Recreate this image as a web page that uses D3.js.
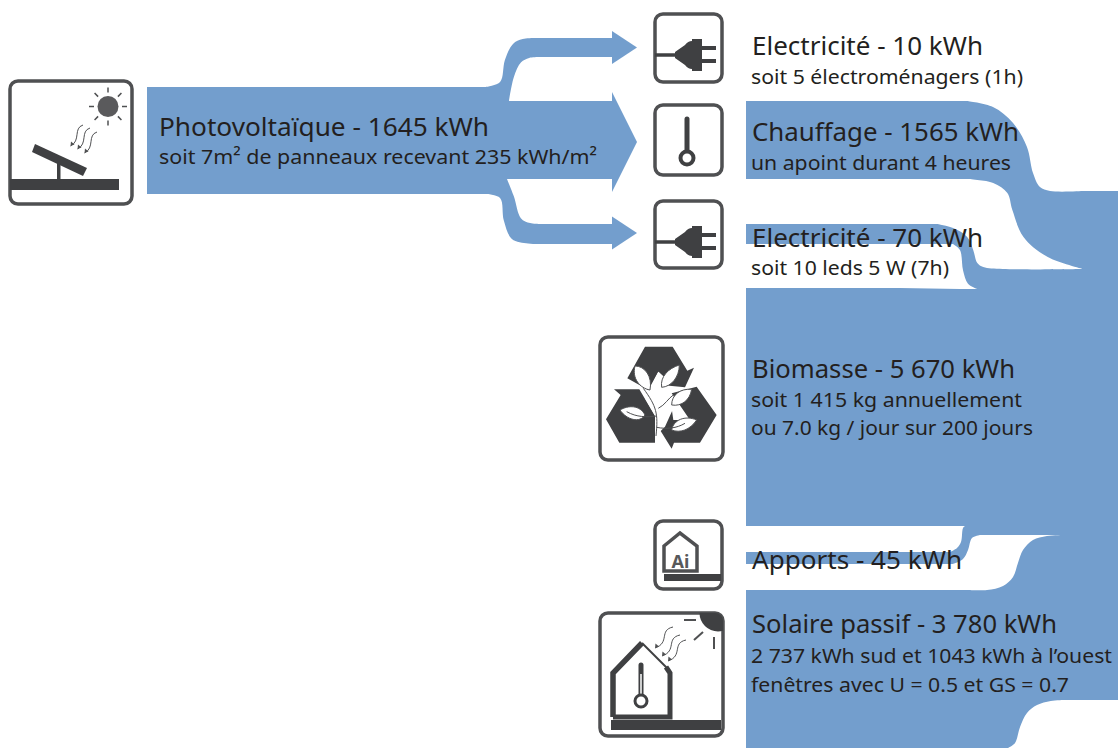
<!DOCTYPE html>
<html lang="fr">
<head>
<meta charset="utf-8">
<title>Bilan énergétique</title>
<script src="https://cdn.jsdelivr.net/npm/d3@7"></script>
<style>
    body { margin: 0; background: #fff; }
    svg { display: block; }
    text { font-family: "Noto Sans", "Open Sans", sans-serif; fill: #231f20; }
</style>
</head>
<body>
<svg id="chart" width="1118" height="748"></svg>
<script>
// values, in kWh
const flowNames = ["Chauffage", "Electricité", "Biomasse", "Apports", "Solaire passif"];
const flowValues = [1565, 70, 5670, 45, 3780];
const pvNames = ["Electricité", "Chauffage", "Electricité"];
const pvValues = [10, 1565, 70];
const pvTotal = 1645;

const titles = [
    "Photovoltaïque - 1645 kWh",
    "Electricité - 10 kWh",
    "Chauffage - 1565 kWh",
    "Electricité - 70 kWh",
    "Biomasse - 5 670 kWh",
    "Apports - 45 kWh",
    "Solaire passif - 3 780 kWh"
];
const subtitles = [
    "soit 7m² de panneaux recevant 235 kWh/m²",
    "soit 5 électroménagers (1h)",
    "un apoint durant 4 heures",
    "soit 10 leds 5 W (7h)",
    "soit 1 415 kg annuellement",
    "ou 7.0 kg / jour sur 200 jours",
    "2 737 kWh sud et 1043 kWh à l’ouest",
    "fenêtres avec U = 0.5 et GS = 0.7"
];

// layout, kept apart from the data
const blue = "#739ecd";
const dark = "#4f5052";
const ink = "#3f4042";
const leftX = 746;
const trunkX = 1083;
const trunkTop = 191;

const rowThick = d3.scaleLinear().domain([45, 70, 1565, 3780, 5670]).range([12, 20, 78, 158, 238]);
const trunkThick = d3.scaleLinear().domain([45, 70, 1565, 3780, 5670]).range([9, 20, 78, 165, 237]);
const pvThick = d3.scaleLinear().domain([10, 70, 1565, 1645]).range([20, 20, 78, 107]);
const headHalf = d3.scaleLinear().domain([20, 78]).range([16.5, 50]);
const rowTop = d3.scaleOrdinal(flowNames, [101, 224, 288, 552, 590]);
const trunkTops = [trunkTop, ...d3.cumsum(flowValues, d => trunkThick(d)).map(d => trunkTop + d)];

const edgeLine = d3.line().curve(d3.curveCatmullRom.alpha(0.5));

// a curved edge from (x0,y0) to (x1,y1), knots are fractions of that box
function edgePoints(x0, y0, x1, y1, knots) {
    const sx = d3.scaleLinear().range([x0, x1]);
    const sy = d3.scaleLinear().range([y0, y1]);
    return [[x0, y0], ...knots.map(k => [sx(k[0]), sy(k[1])]), [x1, y1]];
}

function ribbonPath(x0, x1, top, bottom) {
    const t = edgeLine(top);
    const b = edgeLine(bottom.slice().reverse());
    return "M" + x0 + "," + top[0][1] + "L" + t.slice(1)
        + "L" + x1 + "," + top[top.length - 1][1]
        + "L" + x1 + "," + bottom[bottom.length - 1][1]
        + "L" + b.slice(1)
        + "L" + x0 + "," + bottom[0][1] + "Z";
}

// shape of the curved part of each ribbon (start x, end x, knots)
const ribbonShapes = [
    {
        top: [967, 1083, [[.224, .067], [.397, .244], [.517, .511], [.569, .8], [.629, .956], [.716, 1]]],
        bottom: [967, 1083, [[.226, .044], [.348, .156], [.391, .344], [.487, .644], [.696, .867]]]
    },
    {
        top: [937, 1083, [[.11, .089], [.207, .289], [.248, .578], [.276, .867], [.317, .956], [.45, 1]]],
        bottom: [953, 977, [[.29, .136], [.42, .591], [.625, .886]]]
    },
    { top: [900, 960, []], bottom: [900, 960, []] },
    {
        top: [950, 965, [[.467, .154], [.733, .385], [.867, .923]]],
        bottom: [953, 980, [[.37, .172], [.556, .483], [.704, .897]]]
    },
    {
        top: [968, 1065, [[.196, 0], [.361, .073], [.464, .236], [.515, .491], [.567, .727], [.67, .909], [.814, .982]]],
        bottom: [1008, 1065, [[.123, .104], [.211, .438], [.333, .729], [.509, .896], [.75, .98]]]
    }
];

const svg = d3.select("#chart");
const gFlows = svg.append("g").attr("fill", blue);

// right hand side: everything flows into the trunk
gFlows.append("rect")
    .attr("x", trunkX - 1)
    .attr("y", trunkTops[0])
    .attr("width", 1118 - trunkX + 1)
    .attr("height", trunkTops[trunkTops.length - 1] - trunkTops[0]);

gFlows.selectAll("path.flow")
    .data(flowNames)
    .join("path")
    .attr("class", "flow")
    .attr("d", (name, i) => {
        const shape = ribbonShapes[i];
        const y0 = rowTop(name);
        const y1 = y0 + rowThick(flowValues[i]);
        const top = edgePoints(shape.top[0], y0, shape.top[1], trunkTops[i], shape.top[2]);
        const bottom = edgePoints(shape.bottom[0], y1, shape.bottom[1], trunkTops[i + 1], shape.bottom[2]);
        return ribbonPath(leftX, trunkX, top, bottom);
    });

// left hand side: photovoltaic split in three arrows
const pvX = 147;
const splitX = 486;
const arrowX = 612;
const tipX = 637;
const pvTop = 87;
const pvBottom = pvTop + pvThick(pvTotal);
const midTop = 101;
const midBottom = midTop + pvThick(pvValues[1]);
const upperShaft = 37;
const lowerShaft = 224;

gFlows.append("rect")
    .attr("x", pvX).attr("y", pvTop)
    .attr("width", splitX - pvX + 1).attr("height", pvBottom - pvTop);
gFlows.append("rect")
    .attr("x", pvX).attr("y", midTop)
    .attr("width", arrowX - pvX).attr("height", midBottom - midTop);

const upperTop = edgePoints(splitX, pvTop, 540, upperShaft + 1, [[.26, .1], [.35, .55], [.5, .88], [.68, .98]]);
const upperBot = edgePoints(509, midTop, 540, upperShaft + pvThick(pvValues[0]), [[.16, .55], [.39, .88], [.65, .98]]);
gFlows.append("path").attr("d", ribbonPath(splitX, arrowX, upperTop, upperBot));

const lowerTop = edgePoints(507, midBottom, 540, lowerShaft, [[.21, .39], [.42, .87], [.7, .98]]);
const lowerBot = edgePoints(splitX, pvBottom, 540, lowerShaft + pvThick(pvValues[2]), [[.26, .08], [.33, .53], [.48, .9], [.78, .99]]);
gFlows.append("path").attr("d", ribbonPath(splitX, arrowX, lowerTop, lowerBot));

// arrow heads
const headCenters = [47.5, 142, 233];
gFlows.selectAll("path.head")
    .data(pvValues)
    .join("path")
    .attr("class", "head")
    .attr("d", (v, i) => {
        const half = headHalf(pvThick(v));
        const c = headCenters[i];
        return "M" + arrowX + "," + (c - half) + "L" + tipX + "," + c + "L" + arrowX + "," + (c + half) + "Z";
    });

// labels
const titleX = [159, 752, 752, 752, 752, 752, 752];
const titleY = [136, 55, 141, 247, 378, 569, 633];
const titleW = [330, 231, 267, 231, 263, 210, 305];
const subX = [159, 751, 751, 751, 751, 751, 751, 751];
const subY = [164, 84, 170, 275, 407, 435, 663, 692];
const subW = [438, 272, 260, 198, 271, 282, 361, 318];

const gText = svg.append("g");
gText.selectAll("text.title")
    .data(titles)
    .join("text")
    .attr("class", "title")
    .attr("x", (d, i) => titleX[i])
    .attr("y", (d, i) => titleY[i])
    .attr("font-size", 26)
    .attr("textLength", (d, i) => titleW[i])
    .attr("lengthAdjust", "spacingAndGlyphs")
    .text(d => d);
gText.selectAll("text.sub")
    .data(subtitles)
    .join("text")
    .attr("class", "sub")
    .attr("x", (d, i) => subX[i])
    .attr("y", (d, i) => subY[i])
    .attr("font-size", 20.5)
    .attr("textLength", (d, i) => subW[i])
    .attr("lengthAdjust", "spacingAndGlyphs")
    .text(d => d);

// icons, each one drawn in the coordinates of its own little box
function iconBox(x, y, w, h) {
    const g = svg.append("g").attr("transform", "translate(" + x + "," + y + ")");
    g.append("rect")
        .attr("width", w).attr("height", h).attr("rx", 8)
        .attr("fill", "#fff").attr("stroke", dark).attr("stroke-width", 3.5);
    return g;
}

function plug(g) {
    g.append("line").attr("x1", 0).attr("x2", 22).attr("y1", 41).attr("y2", 41)
        .attr("stroke", ink).attr("stroke-width", 3.5);
    g.append("path").attr("fill", ink)
        .attr("d", "M20,38L30,31Q33,27 37,27V25H47V32H61V36H47V45H61V49H47V57H37V55Q33,55 30,51L20,44Z");
}

// three small wavy rays: each one goes from its start by (-dx, dy)
function wavyArrows(g, starts, dx, dy) {
    starts.forEach(s => {
        const ex = s[0] - dx;
        const ey = s[1] + dy;
        g.append("path").attr("fill", "none").attr("stroke", dark).attr("stroke-width", 1)
            .attr("d", "M" + s[0] + "," + s[1]
                + "C" + (s[0] - dx * 0.8) + "," + (s[1] + dy * 0.15)
                + " " + (s[0] - dx * 0.15) + "," + (s[1] + dy * 0.75)
                + " " + ex + "," + ey);
        g.append("path").attr("fill", dark)
            .attr("d", "M" + ex + "," + ey + "l0.5,-4.5l3.5,3z");
    });
}

const plugTop = iconBox(655, 14, 67, 68);
plug(plugTop);

const thermo = iconBox(655, 105, 67, 70);
thermo.append("line").attr("x1", 32).attr("x2", 32).attr("y1", 14).attr("y2", 45)
    .attr("stroke", ink).attr("stroke-width", 5).attr("stroke-linecap", "round");
thermo.append("circle").attr("cx", 32).attr("cy", 53).attr("r", 6.5)
    .attr("fill", "#fff").attr("stroke", ink).attr("stroke-width", 4);

const plugLow = iconBox(655, 201, 67, 67);
plug(plugLow);

// photovoltaic panel
const pvIcon = iconBox(10, 81, 122, 123);
pvIcon.append("rect").attr("x", 0).attr("y", 98).attr("width", 109).attr("height", 11).attr("fill", ink);
pvIcon.append("rect").attr("x", 47).attr("y", 82).attr("width", 3.5).attr("height", 17).attr("fill", ink);
pvIcon.append("path").attr("fill", ink).attr("d", "M25,63L77,87L73,95L22,71Z");
pvIcon.append("circle").attr("cx", 98).attr("cy", 25.5).attr("r", 10.5).attr("fill", "#5a5a5c");
d3.range(8).forEach(i => {
    const a = i * Math.PI / 4;
    pvIcon.append("line")
        .attr("x1", 98 + 14 * Math.cos(a)).attr("y1", 25.5 + 14 * Math.sin(a))
        .attr("x2", 98 + 19 * Math.cos(a)).attr("y2", 25.5 + 19 * Math.sin(a))
        .attr("stroke", dark).attr("stroke-width", 1.5);
});
wavyArrows(pvIcon, [[73, 44], [80, 47], [87, 51]], 12.5, 21);

// recycling arrows with the little plant, numbers are 3x zoom units
const recycle = iconBox(600, 337, 123, 123);
const rec = recycle.append("g").attr("transform", "translate(-10,-7) scale(0.3333)");
const recyclePolys = [
    "M165,50L248,50L292,122L312,113L285,172L215,165L232,150L205,125L175,180L112,145Z",
    "M72,178L148,178L195,258L195,338L88,338L48,268L92,195Z",
    "M320,170L380,255L330,338L252,338L245,356L205,292L245,235L250,270L300,270L245,190Z"
];
rec.selectAll("path.arrow").data(recyclePolys).join("path")
    .attr("class", "arrow").attr("fill", ink).attr("d", d => d);
rec.append("path").attr("fill", "#fff")
    .attr("d", "M205,125L232,150L215,165L240,190L250,235L225,290L200,315L198,262L165,205Z");
const leaves = [
    "M135,108C165,108 188,140 180,180C150,175 125,145 135,108Z",
    "M268,105C268,140 245,170 215,172C210,140 235,115 268,105Z",
    "M305,178C300,210 275,230 245,225C245,195 270,175 305,178Z",
    "M90,240C115,225 150,225 165,255C150,280 110,270 90,240Z",
    "M320,270C300,300 270,310 245,300C250,270 285,255 320,270Z"
];
rec.selectAll("path.leaf").data(leaves).join("path")
    .attr("class", "leaf").attr("fill", "#fff").attr("stroke", dark).attr("stroke-width", 3)
    .attr("d", d => d);
rec.append("path").attr("fill", "none").attr("stroke", dark).attr("stroke-width", 3)
    .attr("d", "M198,318C205,250 200,230 160,175M205,235C225,225 235,205 250,195M200,258C170,262 140,262 110,245M200,292C230,298 260,295 285,280");

// internal gains
const ai = iconBox(655, 521, 67, 68);
ai.append("path").attr("fill", "none").attr("stroke", dark).attr("stroke-width", 3.5)
    .attr("d", "M9,50V25L25,12L42,25V50Z");
ai.append("rect").attr("x", 9).attr("y", 53).attr("width", 57).attr("height", 7).attr("fill", ink);
ai.append("text").attr("x", 25.5).attr("y", 47).attr("text-anchor", "middle")
    .attr("font-size", 18).attr("font-weight", 700).style("fill", "#58595b").text("Ai");

// passive solar
const house = iconBox(600, 613, 123, 123);
house.append("clipPath").attr("id", "corner").append("rect")
    .attr("width", 123).attr("height", 123).attr("rx", 8);
house.append("circle").attr("cx", 118).attr("cy", 0).attr("r", 18.5)
    .attr("fill", ink).attr("clip-path", "url(#corner)");
house.selectAll("path.ray")
    .data(["M84,7H96", "M94,27L103,19", "M114,24V36"])
    .join("path").attr("class", "ray").attr("stroke", dark).attr("stroke-width", 2).attr("d", d => d);
house.append("path").attr("fill", "none").attr("stroke", ink).attr("stroke-width", 5.5)
    .attr("d", "M13,104V60L42,30");
house.append("path").attr("fill", "none").attr("stroke", ink).attr("stroke-width", 2)
    .attr("d", "M42,30L70,58");
house.append("path").attr("fill", "none").attr("stroke", ink).attr("stroke-width", 5)
    .attr("d", "M66,54L70,60V104H13");
house.append("rect").attr("x", 11).attr("y", 107).attr("width", 110).attr("height", 10).attr("fill", ink);
house.append("line").attr("x1", 41).attr("x2", 41).attr("y1", 52).attr("y2", 85)
    .attr("stroke", ink).attr("stroke-width", 5).attr("stroke-linecap", "round");
house.append("line").attr("x1", 41).attr("x2", 41).attr("y1", 61).attr("y2", 85)
    .attr("stroke", "#fff").attr("stroke-width", 1.5);
house.append("circle").attr("cx", 41).attr("cy", 88).attr("r", 6)
    .attr("fill", "#fff").attr("stroke", ink).attr("stroke-width", 3);
wavyArrows(house, [[73, 14], [80, 22], [86, 27]], 18, 21);
</script>
</body>
</html>
